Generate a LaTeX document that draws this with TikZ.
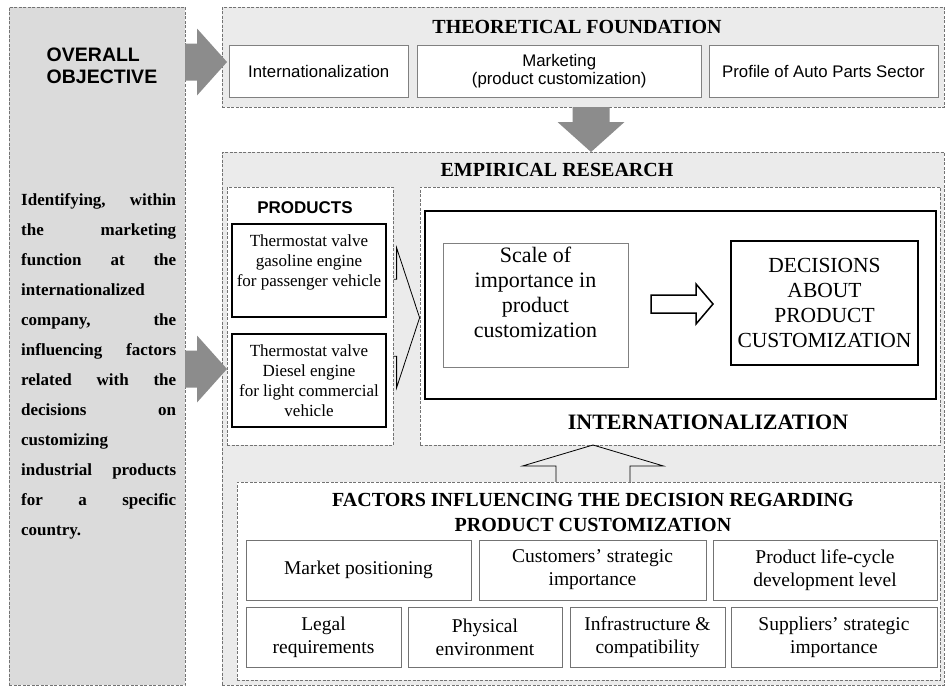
\documentclass[tikz,border=0pt]{standalone}
\usepackage{fontspec}
\setmainfont{Liberation Serif}
\setsansfont{Liberation Sans}

\tikzset{
	dashbox/.style={draw=black!55,line width=0.8pt,dash pattern=on 3pt off 1.5pt,inner sep=0pt},
	theobox/.style={draw=black!50,fill=white,line width=0.8pt,inner sep=0pt,align=center,
		minimum height=52pt,font=\sffamily\fontsize{16.8}{18}\selectfont},
	prodbox/.style={draw=black,fill=white,line width=1.5pt,inner sep=0pt,align=center,
		minimum width=154pt,minimum height=93pt,font=\fontsize{17}{20}\selectfont},
	factorbox/.style={draw=black!55,fill=white,line width=0.8pt,inner sep=0pt,align=center,
		minimum height=60pt,font=\fontsize{19.5}{23}\selectfont},
	headline/.style={inner sep=0pt,align=center,font=\bfseries\fontsize{20}{25}\selectfont},
	objline/.style={inner sep=0pt,font=\bfseries\fontsize{17}{20}\selectfont},
	grayarrow/.style={fill=black!45},
	openarrow/.style={draw=black,line width=0.8pt,line join=miter}
}

\begin{document}
\begin{tikzpicture}[x=1pt,y=-1pt]
	\useasboundingbox (0,0) rectangle (946,688);

	% overall objective
	\node [dashbox,fill=black!14,minimum width=176pt,minimum height=678pt] (obj) at (97,346) {};
	\node [inner sep=0pt,align=left,font=\sffamily\bfseries\fontsize{19.5}{22}\selectfont]
		(objtitle) at (102,66) {OVERALL\\OBJECTIVE};
	\foreach \ln [count=\i] in {{Identifying, within},{the marketing},{function at the},
		{internationalized},{company, the},{influencing factors},{related with the},
		{decisions on},{customizing},{industrial products},{for a specific},{country.}}
		\node [objline,anchor=base west] (line\i) at (21,{205+30*(\i-1)}) {\makebox[155pt][s]{\ln}};

	% gray frames
	\node [dashbox,fill=black!8,minimum width=722pt,minimum height=100pt] (theo) at (583,57) {};
	\node [dashbox,fill=black!8,minimum width=722pt,minimum height=533pt] (emp) at (583,418.5) {};

	% gray arrows
	\coordinate (tiptheo) at (227,62);
	\coordinate (tipemp) at (227,369);
	\coordinate (tipdown) at (591,152);
	\foreach \t in {tiptheo,tipemp}
		\fill [grayarrow] (\t) -- ++(-30,-33.5) -- ++(0,15) -- ++(-12,0) -- ++(0,37)
			-- ++(12,0) -- ++(0,15) -- cycle;
	\fill [grayarrow] (tipdown) -- ++(-33.5,-30) -- ++(15,0) -- ++(0,-15) -- ++(37,0)
		-- ++(0,15) -- ++(15,0) -- cycle;

	% theoretical foundation
	\node [headline] (theotitle) at (577,27) {THEORETICAL FOUNDATION};
	\node [theobox,minimum width=178.5pt] (int) at (318.75,71) {Internationalization};
	\node [theobox,minimum width=283.5pt] (mkt) at (559.25,71) {Marketing\\(product customization)};
	\node [theobox,minimum width=229pt] (prof) at (823.5,71) {Profile of Auto Parts Sector};

	% empirical research
	\node [headline] (emptitle) at (557,170) {EMPIRICAL RESEARCH};
	\node [dashbox,fill=white,minimum width=166pt,minimum height=258pt] (prod) at (310,316) {};
	\node [inner sep=0pt,font=\sffamily\bfseries\fontsize{17}{20}\selectfont] (prodtitle) at (305,208) {PRODUCTS};
	\node [prodbox] (gas) at (309,270.5) {Thermostat valve\\gasoline engine\\for passenger vehicle\\ ~};
	\node [prodbox] (diesel) at (309,380.5) {Thermostat valve\\Diesel engine\\for light commercial\\vehicle};

	\node [dashbox,fill=white,minimum width=520pt,minimum height=258pt] (intl) at (680,316) {};
	\node [draw=black,line width=2pt,minimum width=511pt,minimum height=188pt,inner sep=0pt] (core) at (680.5,305) {};
	\node [draw=black!50,line width=0.8pt,minimum width=185pt,minimum height=124pt,inner sep=0pt,
		align=center,font=\fontsize{22}{25}\selectfont] (scale) at (535.5,305)
		{Scale of\\importance in\\product\\customization\\ ~};
	\node [draw=black,line width=1.5pt,minimum width=187pt,minimum height=124pt,inner sep=0pt,
		align=center,font=\fontsize{21.5}{25}\selectfont] (dec) at (824.5,303)
		{DECISIONS\\ABOUT\\PRODUCT\\CUSTOMIZATION};
	\node [headline,font=\bfseries\fontsize{22}{25}\selectfont] (intltitle) at (708,422) {INTERNATIONALIZATION};

	% open arrows
	\coordinate (tipdec) at (713,304);
	\coordinate (tipprod) at (intl.west |- gas.south);
	\filldraw [openarrow,fill=white,line width=1.5pt] (tipdec) -- ++(-17,-20) -- ++(0,11) -- ++(-45,0)
		-- ++(0,18) -- ++(45,0) -- ++(0,11) -- cycle;
	\draw [openarrow] (tipprod) ++(-26,-38.5) -- ++(3,0) -- ++(0,-31.5) -- (tipprod)
		-- ++(-23,70) -- ++(0,-31.5) -- ++(-3,0);

	% factors
	\node [dashbox,fill=white,minimum width=703pt,minimum height=198pt] (fact) at (588.5,581) {};
	\coordinate (tipfact) at (593,445);
	\draw [openarrow] (tipfact) ++(-37,37) -- ++(0,-16) -- ++(-33.5,0) -- (tipfact)
		-- ++(70.5,21) -- ++(-33.5,0) -- ++(0,16);
	\node [headline] (facttitle) at (593,512.5) {FACTORS INFLUENCING THE DECISION REGARDING\\PRODUCT CUSTOMIZATION};
	\node [factorbox,minimum width=225pt] (mpos) at (358.5,570) {Market positioning};
	\node [factorbox,minimum width=227pt] (cust) at (592.5,570) {Customers' strategic\\importance};
	\node [factorbox,minimum width=224pt] (life) at (825,570) {Product life-cycle\\development level};
	\node [factorbox,minimum width=155pt] (legal) at (323.5,637) {Legal\\requirements};
	\node [factorbox,minimum width=154pt] (phys) at (485,637) {Physical\\environment};
	\node [factorbox,minimum width=155pt] (infra) at (647.5,637) {Infrastructure \&\\compatibility};
	\node [factorbox,minimum width=206pt] (supp) at (834,637) {Suppliers' strategic\\importance};
\end{tikzpicture}
\end{document}
